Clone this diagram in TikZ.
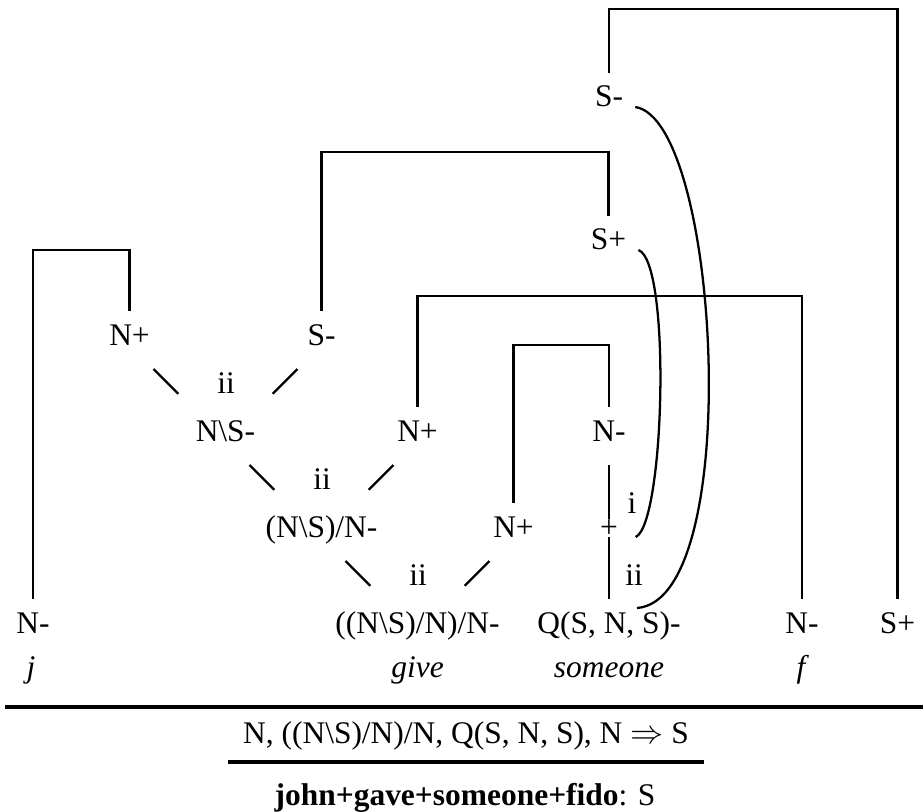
\documentclass[tikz,border=0pt]{standalone}
\usepackage{fontspec}
\setmainfont{Liberation Serif}
\usetikzlibrary{calc}
\tikzset{
  pn diagram/.style={x=0.75pt,y=-0.75pt,
    font=\fontsize{23.6pt}{28pt}\selectfont},
  pn formula/.style={anchor=base,inner xsep=9pt,inner ysep=18pt,
    text height=0.75em,text depth=0pt},
  pn word/.style={anchor=base,inner sep=0pt,
    font=\fontsize{23.6pt}{28pt}\selectfont\itshape},
  pn tag/.style={anchor=base,inner sep=0pt},
  pn axiom/.style={line width=1.8pt},
  pn link/.style={line width=1.8pt,shorten <=25.5pt,shorten >=50pt},
  pn curve/.style={line width=1.7pt},
  pn rule/.style={line width=2.8pt}
}
\begin{document}
\begin{tikzpicture}[pn diagram]
\useasboundingbox (0,0) rectangle (923,812);
% formulas of the net
\node[pn formula] (sMinusTop) at (609,107) {S-};
\node[pn formula] (sPlusMid) at (608.5,250) {S+};
\node[pn formula] (nPlusA) at (129.5,345) {N+};
\node[pn formula] (sMinusA) at (321.5,345) {S-};
\node[pn formula] (nBackS) at (225.5,441) {N\textbackslash S-};
\node[pn formula] (nPlusB) at (417.5,441) {N+};
\node[pn formula] (nMinusQ) at (609,441) {N-};
\node[pn formula] (tvNeg) at (321.5,537) {(N\textbackslash S)/N-};
\node[pn formula] (nPlusC) at (513.5,537) {N+};
\node[pn tag] (qPlus) at (609,537) {+};
\node[pn formula] (nMinusJ) at (33,633) {N-};
\node[pn formula] (dtvNeg) at (417.5,633) {((N\textbackslash S)/N)/N-};
\node[pn formula] (qNeg) at (609,633) {Q(S, N, S)-};
\node[pn formula] (nMinusF) at (802,633) {N-};
\node[pn formula] (sPlusOut) at (897.5,633) {S+};
% words
\node[pn word] (wJohn) at (31,677) {j};
\node[pn word] (wGive) at (417.5,677) {give};
\node[pn word] (wSomeone) at (609,677) {someone};
\node[pn word] (wFido) at (801,677) {f};
% link tags
\node[pn tag] (tagA) at (226,393) {ii};
\node[pn tag] (tagB) at (322,489) {ii};
\node[pn tag] (tagC) at (418,585) {ii};
\node[pn tag] (tagQi) at (632,513) {i};
\node[pn tag] (tagQii) at (634,585) {ii};
% axiom links
\coordinate (barOut) at (0,9);
\coordinate (barS) at (0,152);
\coordinate (barJ) at (0,250);
\coordinate (barF) at (0,296);
\coordinate (barQ) at (0,345);
\draw[pn axiom] (sMinusTop.north) |- (barOut -| sPlusOut) -- (sPlusOut.north);
\draw[pn axiom] (sMinusA.north) |- (barS -| sPlusMid) -- (sPlusMid.north);
\draw[pn axiom] (nMinusJ.north) |- (barJ -| nPlusA) -- (nPlusA.north);
\draw[pn axiom] (nPlusB.north) |- (barF -| nMinusF) -- (nMinusF.north);
\draw[pn axiom] (nPlusC.north) |- (barQ -| nMinusQ) -- (nMinusQ.north);
\draw[pn axiom] (nMinusQ.south) -- (qPlus.north);
\draw[pn axiom] (qPlus.south) -- (qNeg.north);
% tensor links
\draw[pn link] (nPlusA.base) -- (nBackS.base);
\draw[pn link] (sMinusA.base) -- (nBackS.base);
\draw[pn link] (nBackS.base) -- (tvNeg.base);
\draw[pn link] (nPlusB.base) -- (tvNeg.base);
\draw[pn link] (tvNeg.base) -- (dtvNeg.base);
\draw[pn link] (nPlusC.base) -- (dtvNeg.base);
% quantifier arcs
\draw[pn curve] (sPlusMid.base east) .. controls +(33,12) and +(29,-13) .. ([xshift=20pt]qPlus.base);
\draw[pn curve] (sMinusTop.base east) .. controls +(85,13) and +(108,-8) .. ([shift={(28,-25)}]qNeg.base);
% sequent
\draw[pn rule] (5,707) -- (923,707);
\node[anchor=base,inner xsep=11.5pt,inner ysep=9pt] (seq) at (466,743)
  {N, ((N\textbackslash S)/N)/N, Q(S, N, S), N $\Rightarrow$ S};
\draw[pn rule] (seq.south west) -- (seq.south east);
\node[anchor=base] (result) at (465,805) {\textbf{john+gave+someone+fido}: S};
\end{tikzpicture}
\end{document}
